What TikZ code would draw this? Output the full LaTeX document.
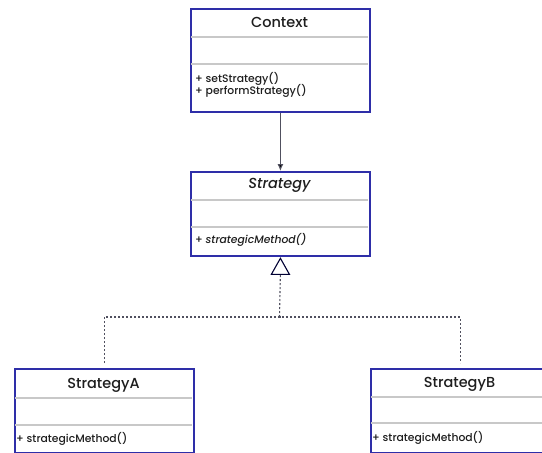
\documentclass[tikz,border=0pt]{standalone}
\usepackage{fontspec}
\setmainfont{Poppins}[UprightFont={* Medium}, ItalicFont={* Medium Italic}]
\usetikzlibrary{arrows.meta}
\definecolor{boxblue}{RGB}{46,46,168}
\definecolor{divgray}{RGB}{200,200,200}
\definecolor{txt}{RGB}{30,30,30}
\definecolor{linegray}{RGB}{80,80,95}
\tikzset{
  classbox/.style={draw=boxblue, line width=1.8pt, fill=white, anchor=north west, inner sep=0pt},
  divider/.style={draw=divgray, line width=1.3pt},
  titletxt/.style={anchor=base, font=\fontsize{14.5}{16}\selectfont, text=txt, inner sep=0pt},
  methtxt/.style={anchor=base west, font=\fontsize{10.8}{12}\selectfont, text=txt, inner sep=0pt},
  dep/.style={draw=linegray, line width=1.1pt, dash pattern=on 2pt off 2pt},
}
\begin{document}
\begin{tikzpicture}[x=1pt,y=-1pt]
\useasboundingbox (0,0) rectangle (542,453);
% boxes
\node[classbox, minimum width=179pt, minimum height=103pt] (ctx) at (190,8) {};
\node[classbox, minimum width=179pt, minimum height=84pt] (strat) at (190,171) {};
\node[classbox, minimum width=179pt, minimum height=84pt] (sa) at (14,368) {};
\node[classbox, minimum width=179pt, minimum height=84pt] (sb) at (370,368) {};
% dividers
\draw[divider] (191,37) -- (368,37);
\draw[divider] (191,64) -- (368,64);
\draw[divider] (191,200) -- (368,200);
\draw[divider] (191,227) -- (368,227);
\draw[divider] (15,398) -- (192,398);
\draw[divider] (15,425) -- (192,425);
\draw[divider] (371,397) -- (548,397);
\draw[divider] (371,423) -- (548,423);
% texts
\node[titletxt] (ctxt) at (279.5,27) {Context};
\node[methtxt] (ctxm1) at (195,82) {+ setStrategy()};
\node[methtxt] (ctxm2) at (195,94) {+ performStrategy()};
\node[titletxt] (stt) at (279.5,188) {\itshape Strategy};
\node[methtxt] (stm) at (195,243.5) {+ \itshape strategicMethod()};
\node[titletxt] (sat) at (103.5,388) {StrategyA};
\node[methtxt] (sam) at (16,442) {+ strategicMethod()};
\node[titletxt] (sbt) at (459.5,387) {StrategyB};
\node[methtxt] (sbm) at (372,441) {+ strategicMethod()};
% association
\draw[draw=linegray, line width=1pt, -{Latex[length=7pt,width=6pt,fill=black]}] (ctx.south) -- (strat.north);
% realization
\coordinate (j) at (279.5,317);
\draw[dep] ([yshift=5pt]sa.north) |- (j) -| ([yshift=5pt]sb.north);
\draw[dep] (j) -- ([yshift=-17pt]strat.south);
\draw[draw=black!80!blue, line width=1.1pt, fill=white] (strat.south) ++(0,1.5) -- ++(9,16) -- ++(-18,0) -- cycle;
\end{tikzpicture}
\end{document}
